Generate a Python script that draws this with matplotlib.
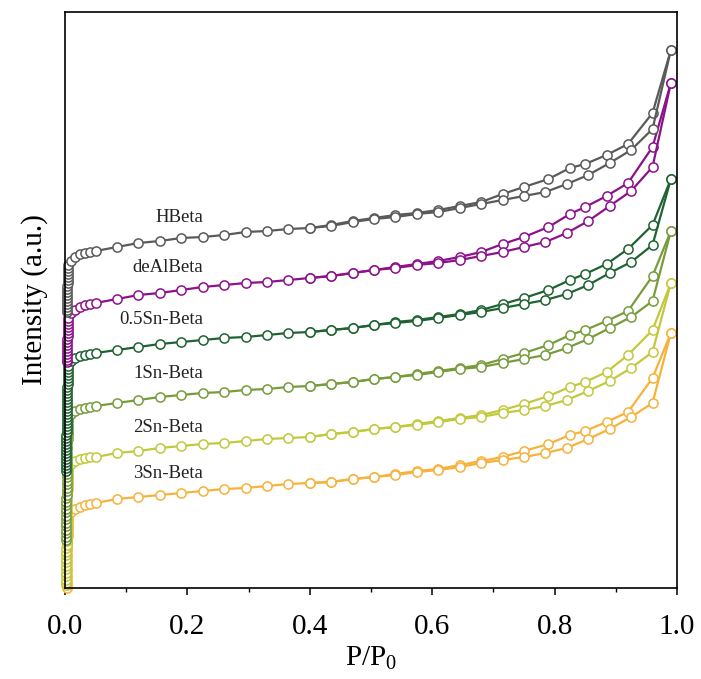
import matplotlib
matplotlib.use("Agg")
from matplotlib import pyplot as plt
from matplotlib.ticker import MultipleLocator, FormatStrFormatter

plt.rcParams['font.family'] = ['Liberation Serif', 'DejaVu Serif']
plt.rcParams['mathtext.fontset'] = 'custom'
plt.rcParams['mathtext.rm'] = 'Liberation Serif'
plt.rcParams['mathtext.it'] = 'Liberation Serif:italic'

# relative pressures
low_p = [0.0012, 0.0013, 0.0014, 0.0015, 0.0016, 0.0017, 0.0018, 0.0019, 0.0020,
         0.0021, 0.0022, 0.0023, 0.0024, 0.0025, 0.0026, 0.0027, 0.0028, 0.0029,
         0.0030, 0.0031, 0.0032, 0.0033, 0.0034, 0.0035, 0.0036, 0.0037, 0.0038,
         0.0039, 0.0040, 0.0041, 0.0042, 0.0043, 0.0044, 0.0045, 0.0046]
ads_p = [0.005, 0.01, 0.016, 0.025, 0.033, 0.041, 0.05, 0.085, 0.12, 0.155, 0.19,
         0.225, 0.26, 0.295, 0.33, 0.365, 0.40, 0.435, 0.47, 0.505, 0.54, 0.575,
         0.61, 0.645, 0.68, 0.715, 0.75, 0.785, 0.82, 0.855, 0.89, 0.925, 0.96, 0.99]
des_p = [0.99, 0.96, 0.92, 0.885, 0.85, 0.825, 0.79, 0.75, 0.715, 0.68, 0.645,
         0.61, 0.575, 0.54, 0.505, 0.47, 0.435, 0.40]

names = ["HBeta", "deAlBeta", "0.5Sn-Beta", "1Sn-Beta", "2Sn-Beta", "3Sn-Beta"]
colors = ["#5a5a5a", "#8c128c", "#1f6332", "#789c3c", "#c2c93c", "#f6b23a"]
label_y = [371, 320, 268, 215, 161, 115]

# steep low-pressure uptake (offset intensity, a.u.)
hbeta_low = [276, 278, 281, 284, 287, 290, 293, 296, 299, 302, 305, 308, 311, 314, 317, 320]
dealbeta_low = [226, 228, 231, 234, 237, 240, 243, 246, 249, 252, 255, 258, 261, 264, 267]
sn05_low = [117, 120, 123, 126, 129, 132, 135, 138, 141, 144, 147, 150, 153, 156, 159, 162,
            165, 168, 171, 174, 177, 180, 183, 186, 189, 192, 195, 198, 201, 204, 207, 210,
            213, 216, 219]
sn1_low = [48, 51, 55, 58, 62, 65, 69, 72, 76, 79, 83, 86, 90, 93, 97, 100, 104, 107, 111,
           114, 118, 121, 125, 128, 132, 135, 139, 142, 146, 149, 153, 156, 160, 163, 167]
sn2_low = [3, 5, 8, 12, 15, 19, 22, 26, 29, 33, 36, 40, 43, 47, 50, 54, 57, 61, 64, 68, 71,
           75, 78, 82, 85, 89, 92, 96, 99, 103, 106, 110, 113, 117]
sn3_low = [0, 3, 6, 10, 13, 17, 20, 24, 27, 31, 34, 38, 41, 45, 48, 52, 55, 59, 62, 66, 69]

# adsorption branches
hbeta_ads = [323, 327, 331, 334, 335, 336, 337, 341, 345, 347, 350, 351, 353, 356, 357, 359,
             360, 362, 366, 369, 371, 374, 376, 380, 384, 388, 392, 396, 404, 413, 425, 438,
             459, 538]
dealbeta_ads = [270, 275, 278, 281, 283, 284, 285, 289, 293, 295, 298, 301, 303, 305, 306,
                308, 310, 312, 315, 318, 320, 323, 325, 328, 332, 336, 341, 346, 355, 367,
                382, 397, 421, 505]
sn05_ads = [222, 227, 230, 232, 233, 234, 235, 238, 241, 244, 246, 248, 250, 251, 253, 255,
            256, 258, 260, 263, 265, 267, 270, 273, 276, 280, 284, 288, 294, 303, 315, 326,
            343, 409]
sn1_ads = [170, 174, 177, 179, 180, 181, 182, 185, 188, 191, 193, 195, 196, 198, 199, 201,
           202, 204, 206, 209, 211, 213, 216, 219, 221, 225, 229, 233, 240, 249, 260, 271,
           287, 357]
sn2_ads = [120, 124, 127, 129, 130, 131, 131, 135, 137, 140, 142, 144, 145, 147, 149, 150,
           151, 154, 156, 159, 161, 163, 166, 169, 171, 175, 178, 182, 188, 197, 207, 220,
           236, 305]
sn3_ads = [72, 76, 79, 81, 83, 84, 85, 89, 91, 93, 95, 97, 99, 100, 102, 104, 105, 106, 109,
           111, 113, 116, 118, 121, 125, 128, 131, 135, 140, 149, 159, 171, 185, 255]

# desorption branches
hbeta_des = [538, 475, 444, 433, 424, 420, 409, 401, 394, 386, 382, 378, 375, 373, 370, 367, 363, 360]
dealbeta_des = [505, 441, 405, 392, 381, 374, 361, 351, 344, 336, 331, 327, 324, 321, 318, 315, 312, 310]
sn05_des = [409, 363, 339, 324, 314, 308, 298, 290, 284, 278, 274, 271, 268, 266, 263, 260, 258, 256]
sn1_des = [357, 312, 277, 267, 258, 253, 243, 235, 229, 223, 220, 217, 214, 211, 209, 206, 204, 202]
sn2_des = [305, 258, 233, 216, 206, 201, 192, 184, 178, 173, 170, 167, 164, 161, 159, 156, 154, 151]
sn3_des = [255, 210, 176, 166, 157, 153, 144, 137, 131, 127, 123, 119, 117, 114, 111, 109, 106, 105]

lows = [hbeta_low, dealbeta_low, sn05_low, sn1_low, sn2_low, sn3_low]
ads = [hbeta_ads, dealbeta_ads, sn05_ads, sn1_ads, sn2_ads, sn3_ads]
des = [hbeta_des, dealbeta_des, sn05_des, sn1_des, sn2_des, sn3_des]

fig = plt.figure(figsize=(7.01, 6.79), dpi=100)
ax = fig.add_axes([65/701, 1-588/679, 612/701, 576/679])

style = dict(lw=1.6, marker='o', ms=6.6, mfc='white', mew=1.1)
for i in reversed(range(len(names))):
    low = lows[i]
    x_ads = low_p[-len(low):] + ads_p
    y_ads = low + ads[i]
    ax.plot(des_p, des[i], color=colors[i], mec=colors[i], clip_on=False, **style)
    ax.plot(x_ads, y_ads, color=colors[i], mec=colors[i], clip_on=False, **style)
    ax.text(0.2255, label_y[i], names[i], ha='right', va='center', fontsize=13.5, color='#222222')

ax.set_xlim(0, 1.0)
ax.set_ylim(0, 576)
ax.xaxis.set_major_locator(MultipleLocator(0.2))
ax.xaxis.set_minor_locator(MultipleLocator(0.1))
ax.xaxis.set_major_formatter(FormatStrFormatter('%.1f'))
ax.set_yticks([])
ax.tick_params(axis='x', which='major', direction='out', length=5, width=1.1, labelsize=21, pad=14)
ax.tick_params(axis='x', which='minor', direction='out', length=3, width=1.0)
for s in ax.spines.values():
    s.set_linewidth(1.2)
ax.set_xlabel("P/P$_0$", fontsize=21, labelpad=3)
ax.set_ylabel("Intensity (a.u.)", fontsize=21, labelpad=12)

fig.savefig("out.png", dpi=100)
